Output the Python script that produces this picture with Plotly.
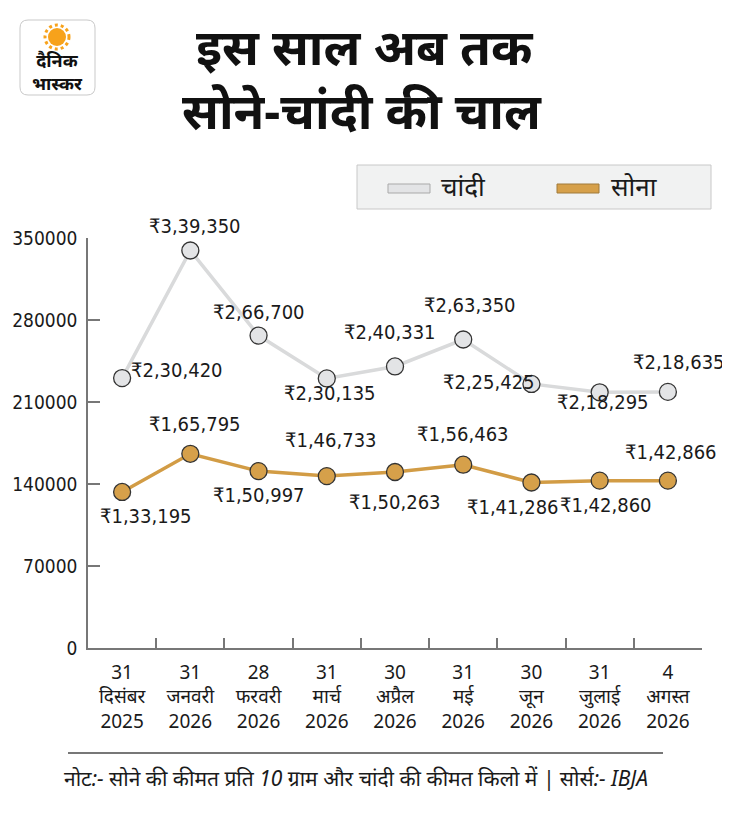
import plotly.graph_objects as go

# dates (x axis categories)
days = ["31", "31", "28", "31", "30", "31", "30", "31", "4"]
months = ["दिसंबर", "जनवरी", "फरवरी", "मार्च", "अप्रैल", "मई", "जून", "जुलाई", "अगस्त"]
years = ["2025", "2026", "2026", "2026", "2026", "2026", "2026", "2026", "2026"]

# prices in rupees
silver = [230420, 339350, 266700, 230135, 240331, 263350, 225425, 218295, 218635]
gold = [133195, 165795, 150997, 146733, 150263, 156463, 141286, 142860, 142866]

y_ticks = [0, 70000, 140000, 210000, 280000, 350000]

categories = [f"{d}<br>{m}<br>{y}" for d, m, y in zip(days, months, years)]

# label offsets in pixels (dx right, dy down) so the labels don't collide
silver_off = [(55, -8), (5, -24), (0, -24), (3, 15), (-5, -34), (7, -35), (-42, -2), (3, 10), (11, -30)]
gold_off = [(24, 24), (5, -30), (0, 24), (4, -36), (0, 30), (0, -31), (-18, 25), (6, 24), (3, -29)]

SILVER_LINE = "#d9dadb"
SILVER_FILL = "#e3e4e6"
GOLD_LINE = "#d29c45"
GOLD_FILL = "#d6a04a"
NARROW = "DejaVu Sans Condensed, Liberation Sans Narrow, sans-serif"
DEVA = "Noto Sans, sans-serif"

# the page puts the figure 8px in from the window corner
OFF = 8
W, H = 730, 822
L, R, T, B = 88 - OFF, 36, 238 - OFF, 182


def rupee(v):
    # indian digit grouping: 2,30,420
    s = str(v)
    head, tail = s[:-3], s[-3:]
    parts = []
    while len(head) > 2:
        parts.insert(0, head[-2:])
        head = head[:-2]
    if head:
        parts.insert(0, head)
    return "₹" + ",".join(parts + [tail])


fig = go.Figure()

fig.add_trace(go.Scatter(
    x=categories, y=silver, mode="lines+markers", name="चांदी",
    line=dict(color=SILVER_LINE, width=3.5),
    marker=dict(size=17, color=SILVER_FILL, line=dict(color="#333333", width=1.3)),
    cliponaxis=False, showlegend=False,
))
fig.add_trace(go.Scatter(
    x=categories, y=gold, mode="lines+markers", name="सोना",
    line=dict(color=GOLD_LINE, width=3.5),
    marker=dict(size=17, color=GOLD_FILL, line=dict(color="#333333", width=1.3)),
    cliponaxis=False, showlegend=False,
))

annotations = []
for series, offs in ((silver, silver_off), (gold, gold_off)):
    for cat, val, (dx, dy) in zip(categories, series, offs):
        annotations.append(dict(
            x=cat, y=val, xref="x", yref="y", text=rupee(val), showarrow=False,
            xshift=dx, yshift=-dy, font=dict(family=NARROW, size=20, color="#1a1a1a"),
        ))

fig.update_layout(
    width=W, height=H,
    margin=dict(l=L, r=R, t=T, b=B),
    paper_bgcolor="white", plot_bgcolor="white",
    xaxis=dict(
        type="category", showgrid=False, showline=True, linecolor="#777777", linewidth=1.5,
        ticks="inside", tickson="boundaries", ticklen=10, tickcolor="#777777", tickwidth=1.5,
        tickfont=dict(family=DEVA, size=19, color="#1a1a1a"), ticklabelstandoff=6,
        range=[-0.5, 8.5], fixedrange=True, automargin=False,
    ),
    yaxis=dict(
        range=[0, 350000], tickvals=y_ticks, ticktext=[str(v) for v in y_ticks],
        showgrid=False, zeroline=False, showline=True, linecolor="#777777", linewidth=1.5,
        ticks="inside", ticklen=12, tickcolor="#777777", tickwidth=1.5,
        tickfont=dict(family=NARROW, size=19, color="#1a1a1a"), ticklabelstandoff=5,
        automargin=False,
    ),
)


# everything outside the plot is placed in window pixels, converted to paper units
def px(xp, yp):
    xp, yp = xp - OFF, yp - OFF
    return (xp - L) / (W - L - R), 1 - (yp - T) / (H - T - B)


shapes = []
notes = []


def text_at(xp, yp, text, size, family=DEVA, color="#111111", xanchor="center"):
    x, y = px(xp, yp)
    notes.append(dict(x=x, y=y, xref="paper", yref="paper", text=text, showarrow=False,
                      xanchor=xanchor, yanchor="middle", font=dict(family=family, size=size, color=color)))


def rect(x0, y0, x1, y1, fill, line, width=1):
    a, b = px(x0, y0)
    c, d = px(x1, y1)
    shapes.append(dict(type="rect", xref="paper", yref="paper", x0=a, y0=b, x1=c, y1=d,
                       fillcolor=fill, line=dict(color=line, width=width), layer="above"))


# title lines
text_at(365, 46, "<b>इस साल अब तक</b>", 50)
text_at(362, 110, "<b>सोने-चांदी की चाल</b>", 50)

# logo: rounded box, sun and name
x0, y0, x1, y1 = 20, 20, 95, 95
a, b = px(x0, y0)
c, d = px(x1, y1)
rx, ry = 8 / (W - L - R), 8 / (H - T - B)
shapes.append(dict(
    type="path", xref="paper", yref="paper",
    path=(f"M {a+rx} {b} L {c-rx} {b} Q {c} {b} {c} {b-ry} L {c} {d+ry} Q {c} {d} {c-rx} {d} "
          f"L {a+rx} {d} Q {a} {d} {a} {d+ry} L {a} {b-ry} Q {a} {b} {a+rx} {b} Z"),
    fillcolor="white", line=dict(color="#c9c9c9", width=1),
))
cx, cy = 57, 37
sx0, sy0 = px(cx - 12, cy - 12)
sx1, sy1 = px(cx + 12, cy + 12)
shapes.append(dict(type="circle", xref="paper", yref="paper", x0=sx0, y0=sy0, x1=sx1, y1=sy1,
                   fillcolor="rgba(0,0,0,0)", line=dict(color="#f7a21b", width=3, dash="dot")))
sx0, sy0 = px(cx - 9, cy - 9)
sx1, sy1 = px(cx + 9, cy + 9)
shapes.append(dict(type="circle", xref="paper", yref="paper", x0=sx0, y0=sy0, x1=sx1, y1=sy1,
                   fillcolor="#f7a21b", line=dict(width=0)))
text_at(57, 71, "<b>दैनिक<br>भास्कर</b>", 18)

# legend box
rect(357, 165, 711, 209, "#f1f2f2", "#c8c8c8", 1)
rect(388, 184, 430, 193, SILVER_FILL, "#a9a9a9", 1)
text_at(439, 186, "चांदी", 26, xanchor="left", color="#1a1a1a")
rect(557, 184, 599, 193, GOLD_FILL, "#a07a3a", 1)
text_at(609, 186, "सोना", 26, xanchor="left", color="#1a1a1a")

# footer rule and note
lx0, ly = px(68, 753)
lx1, _ = px(663, 753)
shapes.append(dict(type="line", xref="paper", yref="paper", x0=lx0, y0=ly, x1=lx1, y1=ly,
                   line=dict(color="#777777", width=2)))
text_at(356, 778, "<i>नोट:- सोने की कीमत प्रति 10 ग्राम और चांदी की कीमत किलो में | सोर्स:- IBJA</i>", 21,
        color="#1a1a1a")

fig.update_layout(annotations=annotations + notes, shapes=shapes)

fig.write_html("out.html")
